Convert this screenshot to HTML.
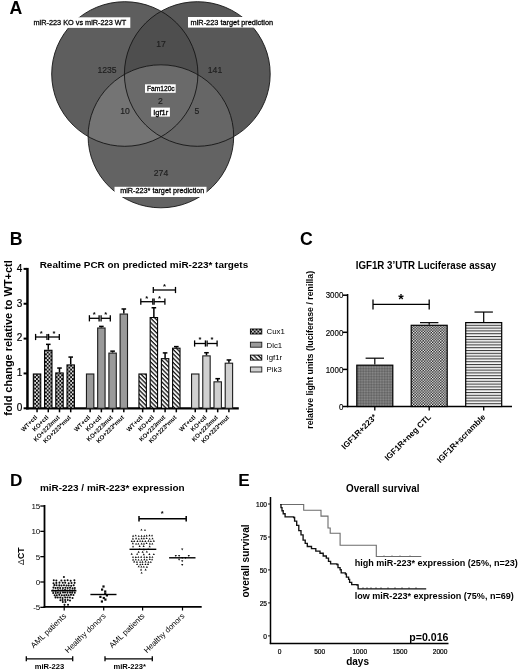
<!DOCTYPE html>
<html><head><meta charset="utf-8"><style>
html,body{margin:0;padding:0;background:#fff;}
svg{display:block;will-change:transform;filter:blur(0.3px);font-family:"Liberation Sans",sans-serif;}
</style></head><body>
<svg width="520" height="672" viewBox="0 0 520 672">
<rect width="520" height="672" fill="#fff"/>
<defs>
<pattern id="chk" width="3.6" height="3.8" patternUnits="userSpaceOnUse"><rect width="3.6" height="3.8" fill="#0a0a0a"/><circle cx="0.9" cy="0.95" r="0.95" fill="#fff"/><circle cx="2.7" cy="2.85" r="0.95" fill="#fff"/></pattern>
<pattern id="chk2" width="2.7" height="2.7" patternUnits="userSpaceOnUse"><rect width="2.7" height="2.7" fill="#111"/><rect width="1.35" height="1.35" fill="#fff"/><rect x="1.35" y="1.35" width="1.35" height="1.35" fill="#fff"/></pattern>
<pattern id="dit2" width="1.6" height="1.6" patternUnits="userSpaceOnUse"><rect width="1.6" height="1.6" fill="#747474"/><rect width="0.8" height="0.8" fill="#5e5e5e"/><rect x="0.8" y="0.8" width="0.8" height="0.8" fill="#8c8c8c"/></pattern>
<pattern id="hat" width="3.1" height="3.1" patternUnits="userSpaceOnUse" patternTransform="rotate(45)"><rect width="3.1" height="3.1" fill="#f6f6f6"/><rect width="3.1" height="1.25" fill="#111"/></pattern>
<pattern id="hor" width="3" height="2.8" patternUnits="userSpaceOnUse"><rect width="3" height="2.8" fill="#f6f6f6"/><rect width="3" height="1.05" fill="#3a3a3a"/></pattern>
<clipPath id="cL"><ellipse cx="124.8" cy="74" rx="73.1" ry="72.3"/></clipPath>
<clipPath id="cR"><ellipse cx="197.3" cy="74" rx="72.9" ry="72.3"/></clipPath>
<clipPath id="cB"><ellipse cx="160.9" cy="136.3" rx="72.8" ry="71.5"/></clipPath>
</defs>
<text x="9.5" y="14.2" font-size="17.7" font-weight="bold" text-anchor="start" fill="#000">A</text>
<ellipse cx="124.8" cy="74" rx="73.1" ry="72.3" fill="#5e5e5e"/>
<ellipse cx="197.3" cy="74" rx="72.9" ry="72.3" fill="#585858"/>
<ellipse cx="160.9" cy="136.3" rx="72.8" ry="71.5" fill="#636363"/>
<g clip-path="url(#cL)"><ellipse cx="197.3" cy="74" rx="72.9" ry="72.3" fill="#4e4e4e"/></g>
<g clip-path="url(#cL)"><ellipse cx="160.9" cy="136.3" rx="72.8" ry="71.5" fill="#747474"/></g>
<g clip-path="url(#cR)"><ellipse cx="160.9" cy="136.3" rx="72.8" ry="71.5" fill="#666666"/></g>
<g clip-path="url(#cL)"><g clip-path="url(#cR)"><ellipse cx="160.9" cy="136.3" rx="72.8" ry="71.5" fill="#6a6a6a"/></g></g>
<ellipse cx="124.8" cy="74" rx="73.1" ry="72.3" fill="none" stroke="#151515" stroke-width="0.9"/>
<ellipse cx="197.3" cy="74" rx="72.9" ry="72.3" fill="none" stroke="#151515" stroke-width="0.9"/>
<ellipse cx="160.9" cy="136.3" rx="72.8" ry="71.5" fill="none" stroke="#151515" stroke-width="0.9"/>
<rect x="29.50" y="17.30" width="100.80" height="10.60" fill="#fff" stroke="none" stroke-width="1"/>
<text x="33.5" y="25.1" font-size="7.6" font-weight="normal" text-anchor="start" fill="#000" stroke="#000" stroke-width="0.28" textLength="92.6" lengthAdjust="spacingAndGlyphs">miR-223 KO vs miR-223 WT</text>
<rect x="188.00" y="17.00" width="88.50" height="10.60" fill="#fff" stroke="none" stroke-width="1"/>
<text x="190.6" y="24.6" font-size="7.6" font-weight="normal" text-anchor="start" fill="#000" stroke="#000" stroke-width="0.28" textLength="82.5" lengthAdjust="spacingAndGlyphs">miR-223 target prediction</text>
<rect x="114.50" y="186.80" width="92.00" height="10.20" fill="#fff" stroke="none" stroke-width="1"/>
<text x="120.2" y="193.3" font-size="7.3" font-weight="normal" text-anchor="start" fill="#000" stroke="#000" stroke-width="0.28" textLength="84.2" lengthAdjust="spacingAndGlyphs">miR-223* target prediction</text>
<rect x="145.00" y="84.30" width="30.70" height="8.50" fill="#fff" stroke="none" stroke-width="1"/>
<text x="146.9" y="91.2" font-size="7" font-weight="normal" text-anchor="start" fill="#000" stroke="#000" stroke-width="0.28" textLength="27.8" lengthAdjust="spacingAndGlyphs">Fam120c</text>
<rect x="151.10" y="107.60" width="18.80" height="9.00" fill="#fff" stroke="none" stroke-width="1"/>
<text x="153.2" y="114.5" font-size="7" font-weight="normal" text-anchor="start" fill="#000" stroke="#000" stroke-width="0.28" textLength="15.1" lengthAdjust="spacingAndGlyphs">Igf1r</text>
<text x="161" y="47.2" font-size="8.6" font-weight="normal" text-anchor="middle" fill="#1e1e1e" stroke="#1e1e1e" stroke-width="0.15">17</text>
<text x="107" y="73.3" font-size="8.6" font-weight="normal" text-anchor="middle" fill="#1e1e1e" stroke="#1e1e1e" stroke-width="0.15">1235</text>
<text x="215" y="73.3" font-size="8.6" font-weight="normal" text-anchor="middle" fill="#1e1e1e" stroke="#1e1e1e" stroke-width="0.15">141</text>
<text x="160.4" y="103.9" font-size="8.6" font-weight="normal" text-anchor="middle" fill="#1e1e1e" stroke="#1e1e1e" stroke-width="0.15">2</text>
<text x="125" y="114.3" font-size="8.6" font-weight="normal" text-anchor="middle" fill="#1e1e1e" stroke="#1e1e1e" stroke-width="0.15">10</text>
<text x="197" y="114.3" font-size="8.6" font-weight="normal" text-anchor="middle" fill="#1e1e1e" stroke="#1e1e1e" stroke-width="0.15">5</text>
<text x="161" y="175.8" font-size="8.6" font-weight="normal" text-anchor="middle" fill="#1e1e1e" stroke="#1e1e1e" stroke-width="0.15">274</text>
<text x="9.7" y="244.8" font-size="17.7" font-weight="bold" text-anchor="start" fill="#000">B</text>
<text x="39.7" y="267.8" font-size="9.9" font-weight="bold" text-anchor="start" fill="#000" textLength="208.5" lengthAdjust="spacingAndGlyphs">Realtime PCR on predicted miR-223* targets</text>
<line x1="27.45" y1="267.9" x2="27.45" y2="409.5" stroke="#000" stroke-width="2.5"/>
<line x1="26.2" y1="408.4" x2="238.8" y2="408.4" stroke="#000" stroke-width="2.2"/>
<line x1="23.6" y1="408.3" x2="27" y2="408.3" stroke="#000" stroke-width="2.0"/>
<text x="22.4" y="411.1" font-size="10" font-weight="normal" text-anchor="end" fill="#000" stroke="#000" stroke-width="0.2">0</text>
<line x1="23.6" y1="373.45" x2="27" y2="373.45" stroke="#000" stroke-width="2.0"/>
<text x="22.4" y="376.25" font-size="10" font-weight="normal" text-anchor="end" fill="#000" stroke="#000" stroke-width="0.2">1</text>
<line x1="23.6" y1="338.6" x2="27" y2="338.6" stroke="#000" stroke-width="2.0"/>
<text x="22.4" y="341.40000000000003" font-size="10" font-weight="normal" text-anchor="end" fill="#000" stroke="#000" stroke-width="0.2">2</text>
<line x1="23.6" y1="303.75" x2="27" y2="303.75" stroke="#000" stroke-width="2.0"/>
<text x="22.4" y="306.55" font-size="10" font-weight="normal" text-anchor="end" fill="#000" stroke="#000" stroke-width="0.2">3</text>
<line x1="23.6" y1="268.9" x2="27" y2="268.9" stroke="#000" stroke-width="2.0"/>
<text x="22.4" y="271.7" font-size="10" font-weight="normal" text-anchor="end" fill="#000" stroke="#000" stroke-width="0.2">4</text>
<text x="11.7" y="338" font-size="11" font-weight="bold" text-anchor="middle" fill="#000" transform="rotate(-90 11.7 338)" textLength="155.5" lengthAdjust="spacingAndGlyphs">fold change relative to WT+ctl</text>
<rect x="33.35" y="374.00" width="7.40" height="34.30" fill="url(#chk)" stroke="#000" stroke-width="1.1"/>
<line x1="37.05" y1="409" x2="37.05" y2="412.3" stroke="#000" stroke-width="1.5"/>
<text x="37.65" y="417.8" font-size="6.1" font-weight="bold" text-anchor="end" fill="#000" transform="rotate(-45 37.65 417.8)">WT+ctl</text>
<rect x="44.57" y="350.30" width="7.40" height="58.00" fill="url(#chk)" stroke="#000" stroke-width="1.1"/>
<line x1="48.269999999999996" y1="349.752" x2="48.269999999999996" y2="344.35025" stroke="#000" stroke-width="1.5"/>
<line x1="45.97" y1="344.35025" x2="50.56999999999999" y2="344.35025" stroke="#000" stroke-width="1.5"/>
<line x1="48.269999999999996" y1="409" x2="48.269999999999996" y2="412.3" stroke="#000" stroke-width="1.5"/>
<text x="48.87" y="417.8" font-size="6.1" font-weight="bold" text-anchor="end" fill="#000" transform="rotate(-45 48.87 417.8)">KO+ctl</text>
<rect x="55.79" y="372.95" width="7.40" height="35.35" fill="url(#chk)" stroke="#000" stroke-width="1.1"/>
<line x1="59.489999999999995" y1="372.4045" x2="59.489999999999995" y2="368.04825" stroke="#000" stroke-width="1.5"/>
<line x1="57.19" y1="368.04825" x2="61.78999999999999" y2="368.04825" stroke="#000" stroke-width="1.5"/>
<line x1="59.489999999999995" y1="409" x2="59.489999999999995" y2="412.3" stroke="#000" stroke-width="1.5"/>
<text x="60.089999999999996" y="417.8" font-size="6.1" font-weight="bold" text-anchor="end" fill="#000" transform="rotate(-45 60.089999999999996 417.8)">KO+223mut</text>
<rect x="67.01" y="364.94" width="7.40" height="43.36" fill="url(#chk)" stroke="#000" stroke-width="1.1"/>
<line x1="70.71000000000001" y1="364.389" x2="70.71000000000001" y2="357.07050000000004" stroke="#000" stroke-width="1.5"/>
<line x1="68.41000000000001" y1="357.07050000000004" x2="73.01" y2="357.07050000000004" stroke="#000" stroke-width="1.5"/>
<line x1="70.71000000000001" y1="409" x2="70.71000000000001" y2="412.3" stroke="#000" stroke-width="1.5"/>
<text x="71.31" y="417.8" font-size="6.1" font-weight="bold" text-anchor="end" fill="#000" transform="rotate(-45 71.31 417.8)">KO+223*mut</text>
<rect x="86.45" y="374.00" width="7.40" height="34.30" fill="#9a9a9a" stroke="#1c1c1c" stroke-width="1.1"/>
<line x1="90.15" y1="409" x2="90.15" y2="412.3" stroke="#000" stroke-width="1.5"/>
<text x="90.75" y="417.8" font-size="6.1" font-weight="bold" text-anchor="end" fill="#000" transform="rotate(-45 90.75 417.8)">WT+ctl</text>
<rect x="97.67" y="328.00" width="7.40" height="80.30" fill="#9a9a9a" stroke="#1c1c1c" stroke-width="1.1"/>
<line x1="101.37" y1="327.448" x2="101.37" y2="326.40250000000003" stroke="#000" stroke-width="1.5"/>
<line x1="99.07000000000001" y1="326.40250000000003" x2="103.67" y2="326.40250000000003" stroke="#000" stroke-width="1.5"/>
<line x1="101.37" y1="409" x2="101.37" y2="412.3" stroke="#000" stroke-width="1.5"/>
<text x="101.97" y="417.8" font-size="6.1" font-weight="bold" text-anchor="end" fill="#000" transform="rotate(-45 101.97 417.8)">KO+ctl</text>
<rect x="108.89" y="353.09" width="7.40" height="55.21" fill="#9a9a9a" stroke="#1c1c1c" stroke-width="1.1"/>
<line x1="112.59" y1="352.54" x2="112.59" y2="351.146" stroke="#000" stroke-width="1.5"/>
<line x1="110.29" y1="351.146" x2="114.89" y2="351.146" stroke="#000" stroke-width="1.5"/>
<line x1="112.59" y1="409" x2="112.59" y2="412.3" stroke="#000" stroke-width="1.5"/>
<text x="113.19" y="417.8" font-size="6.1" font-weight="bold" text-anchor="end" fill="#000" transform="rotate(-45 113.19 417.8)">KO+223mut</text>
<rect x="120.11" y="314.06" width="7.40" height="94.24" fill="#9a9a9a" stroke="#1c1c1c" stroke-width="1.1"/>
<line x1="123.81" y1="313.508" x2="123.81" y2="308.9775" stroke="#000" stroke-width="1.5"/>
<line x1="121.51" y1="308.9775" x2="126.11" y2="308.9775" stroke="#000" stroke-width="1.5"/>
<line x1="123.81" y1="409" x2="123.81" y2="412.3" stroke="#000" stroke-width="1.5"/>
<text x="124.41" y="417.8" font-size="6.1" font-weight="bold" text-anchor="end" fill="#000" transform="rotate(-45 124.41 417.8)">KO+223*mut</text>
<rect x="138.95" y="374.00" width="7.40" height="34.30" fill="url(#hat)" stroke="#000" stroke-width="1.1"/>
<line x1="142.65" y1="409" x2="142.65" y2="412.3" stroke="#000" stroke-width="1.5"/>
<text x="143.25" y="417.8" font-size="6.1" font-weight="bold" text-anchor="end" fill="#000" transform="rotate(-45 143.25 417.8)">WT+ctl</text>
<rect x="150.17" y="317.54" width="7.40" height="90.76" fill="url(#hat)" stroke="#000" stroke-width="1.1"/>
<line x1="153.87" y1="316.993" x2="153.87" y2="307.75775" stroke="#000" stroke-width="1.5"/>
<line x1="151.57" y1="307.75775" x2="156.17000000000002" y2="307.75775" stroke="#000" stroke-width="1.5"/>
<line x1="153.87" y1="409" x2="153.87" y2="412.3" stroke="#000" stroke-width="1.5"/>
<text x="154.47" y="417.8" font-size="6.1" font-weight="bold" text-anchor="end" fill="#000" transform="rotate(-45 154.47 417.8)">KO+ctl</text>
<rect x="161.39" y="358.67" width="7.40" height="49.63" fill="url(#hat)" stroke="#000" stroke-width="1.1"/>
<line x1="165.09" y1="358.116" x2="165.09" y2="352.8885" stroke="#000" stroke-width="1.5"/>
<line x1="162.79" y1="352.8885" x2="167.39000000000001" y2="352.8885" stroke="#000" stroke-width="1.5"/>
<line x1="165.09" y1="409" x2="165.09" y2="412.3" stroke="#000" stroke-width="1.5"/>
<text x="165.69" y="417.8" font-size="6.1" font-weight="bold" text-anchor="end" fill="#000" transform="rotate(-45 165.69 417.8)">KO+223mut</text>
<rect x="172.61" y="348.21" width="7.40" height="60.09" fill="url(#hat)" stroke="#000" stroke-width="1.1"/>
<line x1="176.31" y1="347.661" x2="176.31" y2="346.6155" stroke="#000" stroke-width="1.5"/>
<line x1="174.01" y1="346.6155" x2="178.61" y2="346.6155" stroke="#000" stroke-width="1.5"/>
<line x1="176.31" y1="409" x2="176.31" y2="412.3" stroke="#000" stroke-width="1.5"/>
<text x="176.91" y="417.8" font-size="6.1" font-weight="bold" text-anchor="end" fill="#000" transform="rotate(-45 176.91 417.8)">KO+223*mut</text>
<rect x="191.55" y="374.00" width="7.40" height="34.30" fill="#d0d0d0" stroke="#1c1c1c" stroke-width="1.1"/>
<line x1="195.25" y1="409" x2="195.25" y2="412.3" stroke="#000" stroke-width="1.5"/>
<text x="195.85" y="417.8" font-size="6.1" font-weight="bold" text-anchor="end" fill="#000" transform="rotate(-45 195.85 417.8)">WT+ctl</text>
<rect x="202.77" y="355.88" width="7.40" height="52.42" fill="#d0d0d0" stroke="#1c1c1c" stroke-width="1.1"/>
<line x1="206.47" y1="355.32800000000003" x2="206.47" y2="352.71425" stroke="#000" stroke-width="1.5"/>
<line x1="204.17" y1="352.71425" x2="208.77" y2="352.71425" stroke="#000" stroke-width="1.5"/>
<line x1="206.47" y1="409" x2="206.47" y2="412.3" stroke="#000" stroke-width="1.5"/>
<text x="207.07" y="417.8" font-size="6.1" font-weight="bold" text-anchor="end" fill="#000" transform="rotate(-45 207.07 417.8)">KO+ctl</text>
<rect x="213.99" y="381.84" width="7.40" height="26.46" fill="#d0d0d0" stroke="#1c1c1c" stroke-width="1.1"/>
<line x1="217.69" y1="381.29125" x2="217.69" y2="378.6775" stroke="#000" stroke-width="1.5"/>
<line x1="215.39" y1="378.6775" x2="219.99" y2="378.6775" stroke="#000" stroke-width="1.5"/>
<line x1="217.69" y1="409" x2="217.69" y2="412.3" stroke="#000" stroke-width="1.5"/>
<text x="218.29" y="417.8" font-size="6.1" font-weight="bold" text-anchor="end" fill="#000" transform="rotate(-45 218.29 417.8)">KO+223mut</text>
<rect x="225.21" y="363.20" width="7.40" height="45.10" fill="#d0d0d0" stroke="#1c1c1c" stroke-width="1.1"/>
<line x1="228.91" y1="362.6465" x2="228.91" y2="359.96305" stroke="#000" stroke-width="1.5"/>
<line x1="226.60999999999999" y1="359.96305" x2="231.21" y2="359.96305" stroke="#000" stroke-width="1.5"/>
<line x1="228.91" y1="409" x2="228.91" y2="412.3" stroke="#000" stroke-width="1.5"/>
<text x="229.51" y="417.8" font-size="6.1" font-weight="bold" text-anchor="end" fill="#000" transform="rotate(-45 229.51 417.8)">KO+223*mut</text>
<line x1="35.6" y1="337" x2="47" y2="337" stroke="#000" stroke-width="1.3"/>
<line x1="35.6" y1="333.9" x2="35.6" y2="340.1" stroke="#000" stroke-width="1.3"/>
<line x1="47" y1="333.9" x2="47" y2="340.1" stroke="#000" stroke-width="1.3"/>
<text x="41.3" y="335.8" font-size="7.6" font-weight="bold" text-anchor="middle" fill="#000">*</text>
<line x1="48.6" y1="337" x2="59.3" y2="337" stroke="#000" stroke-width="1.3"/>
<line x1="48.6" y1="333.9" x2="48.6" y2="340.1" stroke="#000" stroke-width="1.3"/>
<line x1="59.3" y1="333.9" x2="59.3" y2="340.1" stroke="#000" stroke-width="1.3"/>
<text x="53.95" y="335.8" font-size="7.6" font-weight="bold" text-anchor="middle" fill="#000">*</text>
<line x1="89.4" y1="318.3" x2="99.1" y2="318.3" stroke="#000" stroke-width="1.3"/>
<line x1="89.4" y1="315.2" x2="89.4" y2="321.40000000000003" stroke="#000" stroke-width="1.3"/>
<line x1="99.1" y1="315.2" x2="99.1" y2="321.40000000000003" stroke="#000" stroke-width="1.3"/>
<text x="94.25" y="317.1" font-size="7.6" font-weight="bold" text-anchor="middle" fill="#000">*</text>
<line x1="101.1" y1="318.3" x2="110.3" y2="318.3" stroke="#000" stroke-width="1.3"/>
<line x1="101.1" y1="315.2" x2="101.1" y2="321.40000000000003" stroke="#000" stroke-width="1.3"/>
<line x1="110.3" y1="315.2" x2="110.3" y2="321.40000000000003" stroke="#000" stroke-width="1.3"/>
<text x="105.69999999999999" y="317.1" font-size="7.6" font-weight="bold" text-anchor="middle" fill="#000">*</text>
<line x1="140.8" y1="301.7" x2="152.8" y2="301.7" stroke="#000" stroke-width="1.3"/>
<line x1="140.8" y1="298.59999999999997" x2="140.8" y2="304.8" stroke="#000" stroke-width="1.3"/>
<line x1="152.8" y1="298.59999999999997" x2="152.8" y2="304.8" stroke="#000" stroke-width="1.3"/>
<text x="146.8" y="300.5" font-size="7.6" font-weight="bold" text-anchor="middle" fill="#000">*</text>
<line x1="154.1" y1="301.7" x2="164.9" y2="301.7" stroke="#000" stroke-width="1.3"/>
<line x1="154.1" y1="298.59999999999997" x2="154.1" y2="304.8" stroke="#000" stroke-width="1.3"/>
<line x1="164.9" y1="298.59999999999997" x2="164.9" y2="304.8" stroke="#000" stroke-width="1.3"/>
<text x="159.5" y="300.5" font-size="7.6" font-weight="bold" text-anchor="middle" fill="#000">*</text>
<line x1="153.3" y1="290" x2="175.5" y2="290" stroke="#000" stroke-width="1.3"/>
<line x1="153.3" y1="286.9" x2="153.3" y2="293.1" stroke="#000" stroke-width="1.3"/>
<line x1="175.5" y1="286.9" x2="175.5" y2="293.1" stroke="#000" stroke-width="1.3"/>
<text x="164.4" y="288.8" font-size="7.6" font-weight="bold" text-anchor="middle" fill="#000">*</text>
<line x1="194.6" y1="343.5" x2="205.4" y2="343.5" stroke="#000" stroke-width="1.3"/>
<line x1="194.6" y1="340.4" x2="194.6" y2="346.6" stroke="#000" stroke-width="1.3"/>
<line x1="205.4" y1="340.4" x2="205.4" y2="346.6" stroke="#000" stroke-width="1.3"/>
<text x="200.0" y="342.3" font-size="7.6" font-weight="bold" text-anchor="middle" fill="#000">*</text>
<line x1="207.1" y1="343.5" x2="217.1" y2="343.5" stroke="#000" stroke-width="1.3"/>
<line x1="207.1" y1="340.4" x2="207.1" y2="346.6" stroke="#000" stroke-width="1.3"/>
<line x1="217.1" y1="340.4" x2="217.1" y2="346.6" stroke="#000" stroke-width="1.3"/>
<text x="212.1" y="342.3" font-size="7.6" font-weight="bold" text-anchor="middle" fill="#000">*</text>
<rect x="250.40" y="329.00" width="11.40" height="5.00" fill="url(#chk)" stroke="#000" stroke-width="0.9"/>
<text x="266.6" y="334.3" font-size="7.8" font-weight="normal" text-anchor="start" fill="#000">Cux1</text>
<rect x="250.40" y="342.20" width="11.40" height="5.00" fill="#9a9a9a" stroke="#1c1c1c" stroke-width="0.9"/>
<text x="266.6" y="347.5" font-size="7.8" font-weight="normal" text-anchor="start" fill="#000">Dlc1</text>
<rect x="250.40" y="355.10" width="11.40" height="5.00" fill="url(#hat)" stroke="#000" stroke-width="0.9"/>
<text x="266.6" y="360.40000000000003" font-size="7.8" font-weight="normal" text-anchor="start" fill="#000">Igf1r</text>
<rect x="250.40" y="367.00" width="11.40" height="5.00" fill="#d0d0d0" stroke="#1c1c1c" stroke-width="0.9"/>
<text x="266.6" y="372.3" font-size="7.8" font-weight="normal" text-anchor="start" fill="#000">Pik3</text>
<text x="300.1" y="244.9" font-size="17.7" font-weight="bold" text-anchor="start" fill="#000">C</text>
<text x="355.7" y="269.2" font-size="10" font-weight="bold" text-anchor="start" fill="#000" textLength="140.5" lengthAdjust="spacingAndGlyphs">IGF1R 3’UTR Luciferase assay</text>
<line x1="347.6" y1="294" x2="347.6" y2="407.2" stroke="#000" stroke-width="1.5"/>
<line x1="346.9" y1="406.5" x2="512" y2="406.5" stroke="#000" stroke-width="1.5"/>
<line x1="342.8" y1="406.5" x2="347.5" y2="406.5" stroke="#000" stroke-width="1.5"/>
<text x="343.3" y="409.7" font-size="9.4" font-weight="normal" text-anchor="end" fill="#000" textLength="4.4" lengthAdjust="spacingAndGlyphs" stroke="#000" stroke-width="0.15">0</text>
<line x1="342.8" y1="369.4" x2="347.5" y2="369.4" stroke="#000" stroke-width="1.5"/>
<text x="343.3" y="372.59999999999997" font-size="9.4" font-weight="normal" text-anchor="end" fill="#000" textLength="17.6" lengthAdjust="spacingAndGlyphs" stroke="#000" stroke-width="0.15">1000</text>
<line x1="342.8" y1="332.3" x2="347.5" y2="332.3" stroke="#000" stroke-width="1.5"/>
<text x="343.3" y="335.5" font-size="9.4" font-weight="normal" text-anchor="end" fill="#000" textLength="17.6" lengthAdjust="spacingAndGlyphs" stroke="#000" stroke-width="0.15">2000</text>
<line x1="342.8" y1="295.2" x2="347.5" y2="295.2" stroke="#000" stroke-width="1.5"/>
<text x="343.3" y="298.4" font-size="9.4" font-weight="normal" text-anchor="end" fill="#000" textLength="17.6" lengthAdjust="spacingAndGlyphs" stroke="#000" stroke-width="0.15">3000</text>
<text x="313.3" y="349.8" font-size="8.8" font-weight="bold" text-anchor="middle" fill="#000" transform="rotate(-90 313.3 349.8)" textLength="157.9" lengthAdjust="spacingAndGlyphs">relative light units (luciferase / renilla)</text>
<rect x="356.80" y="365.18" width="36.00" height="41.32" fill="url(#dit2)" stroke="#000" stroke-width="1.2"/>
<line x1="374.8" y1="364.577" x2="374.8" y2="358.1958" stroke="#000" stroke-width="1.2"/>
<line x1="365.6" y1="358.1958" x2="384.0" y2="358.1958" stroke="#000" stroke-width="1.2"/>
<line x1="374.8" y1="407" x2="374.8" y2="410.5" stroke="#000" stroke-width="1.3"/>
<text x="377.2" y="417.6" font-size="8.2" font-weight="bold" text-anchor="end" fill="#000" transform="rotate(-45 377.2 417.6)">IGF1R+223*</text>
<rect x="411.20" y="325.29" width="36.00" height="81.21" fill="url(#chk2)" stroke="#000" stroke-width="1.2"/>
<line x1="429.20000000000005" y1="324.6945" x2="429.20000000000005" y2="322.654" stroke="#000" stroke-width="1.2"/>
<line x1="420.00000000000006" y1="322.654" x2="438.40000000000003" y2="322.654" stroke="#000" stroke-width="1.2"/>
<line x1="429.20000000000005" y1="407" x2="429.20000000000005" y2="410.5" stroke="#000" stroke-width="1.3"/>
<text x="431.6" y="417.6" font-size="8.2" font-weight="bold" text-anchor="end" fill="#000" transform="rotate(-45 431.6 417.6)">IGF1R+neg CTL</text>
<rect x="465.70" y="322.59" width="36.00" height="83.91" fill="url(#hor)" stroke="#000" stroke-width="1.2"/>
<line x1="483.70000000000005" y1="321.9862" x2="483.70000000000005" y2="312.0434" stroke="#000" stroke-width="1.2"/>
<line x1="474.50000000000006" y1="312.0434" x2="492.90000000000003" y2="312.0434" stroke="#000" stroke-width="1.2"/>
<line x1="483.70000000000005" y1="407" x2="483.70000000000005" y2="410.5" stroke="#000" stroke-width="1.3"/>
<text x="486.1" y="417.6" font-size="8.2" font-weight="bold" text-anchor="end" fill="#000" transform="rotate(-45 486.1 417.6)">IGF1R+scramble</text>
<line x1="373" y1="304.4" x2="429.2" y2="304.4" stroke="#000" stroke-width="1.3"/>
<line x1="373" y1="299.6" x2="373" y2="309.4" stroke="#000" stroke-width="1.3"/>
<line x1="429.2" y1="299.6" x2="429.2" y2="309.4" stroke="#000" stroke-width="1.3"/>
<text x="401" y="303.5" font-size="14" font-weight="bold" text-anchor="middle" fill="#000">*</text>
<text x="10" y="486.3" font-size="17.2" font-weight="bold" text-anchor="start" fill="#000">D</text>
<text x="112.3" y="490.7" font-size="9.95" font-weight="bold" text-anchor="middle" fill="#000">miR-223 / miR-223* expression</text>
<line x1="44.5" y1="505" x2="44.5" y2="607.8" stroke="#000" stroke-width="1.8"/>
<line x1="43.6" y1="606.9" x2="201.7" y2="606.9" stroke="#000" stroke-width="1.8"/>
<line x1="40.3" y1="506.025" x2="44.5" y2="506.025" stroke="#000" stroke-width="1.3"/>
<text x="40.3" y="508.92499999999995" font-size="8" font-weight="normal" text-anchor="end" fill="#000">15</text>
<line x1="40.3" y1="531.35" x2="44.5" y2="531.35" stroke="#000" stroke-width="1.3"/>
<text x="40.3" y="534.25" font-size="8" font-weight="normal" text-anchor="end" fill="#000">10</text>
<line x1="40.3" y1="556.675" x2="44.5" y2="556.675" stroke="#000" stroke-width="1.3"/>
<text x="40.3" y="559.5749999999999" font-size="8" font-weight="normal" text-anchor="end" fill="#000">5</text>
<line x1="40.3" y1="582.0" x2="44.5" y2="582.0" stroke="#000" stroke-width="1.3"/>
<text x="40.3" y="584.9" font-size="8" font-weight="normal" text-anchor="end" fill="#000">0</text>
<line x1="40.3" y1="607.325" x2="44.5" y2="607.325" stroke="#000" stroke-width="1.3"/>
<text x="40.3" y="610.225" font-size="8" font-weight="normal" text-anchor="end" fill="#000">-5</text>
<text x="23.9" y="556.2" font-size="8.7" font-weight="bold" text-anchor="middle" fill="#000" transform="rotate(-90 23.9 556.2)"><tspan font-weight="normal">Δ</tspan>CT</text>
<circle cx="63.91" cy="576.99" r="1.02" fill="#0a0a0a"/>
<circle cx="53.76" cy="580.23" r="1.02" fill="#0a0a0a"/>
<circle cx="56.34" cy="580.44" r="1.02" fill="#0a0a0a"/>
<circle cx="61.38" cy="580.54" r="1.02" fill="#0a0a0a"/>
<circle cx="64.73" cy="580.48" r="1.02" fill="#0a0a0a"/>
<circle cx="67.62" cy="580.24" r="1.02" fill="#0a0a0a"/>
<circle cx="70.68" cy="580.76" r="1.02" fill="#0a0a0a"/>
<circle cx="74.37" cy="580.34" r="1.02" fill="#0a0a0a"/>
<circle cx="53.50" cy="583.28" r="1.02" fill="#0a0a0a"/>
<circle cx="56.36" cy="582.89" r="1.02" fill="#0a0a0a"/>
<circle cx="59.44" cy="582.64" r="1.02" fill="#0a0a0a"/>
<circle cx="62.74" cy="582.82" r="1.02" fill="#0a0a0a"/>
<circle cx="65.26" cy="582.69" r="1.02" fill="#0a0a0a"/>
<circle cx="68.70" cy="583.18" r="1.02" fill="#0a0a0a"/>
<circle cx="71.52" cy="583.02" r="1.02" fill="#0a0a0a"/>
<circle cx="74.63" cy="582.87" r="1.02" fill="#0a0a0a"/>
<circle cx="54.42" cy="585.14" r="1.02" fill="#0a0a0a"/>
<circle cx="56.58" cy="585.24" r="1.02" fill="#0a0a0a"/>
<circle cx="59.29" cy="585.39" r="1.02" fill="#0a0a0a"/>
<circle cx="61.51" cy="585.50" r="1.02" fill="#0a0a0a"/>
<circle cx="63.98" cy="585.30" r="1.02" fill="#0a0a0a"/>
<circle cx="66.55" cy="585.58" r="1.02" fill="#0a0a0a"/>
<circle cx="68.67" cy="585.50" r="1.02" fill="#0a0a0a"/>
<circle cx="71.21" cy="585.71" r="1.02" fill="#0a0a0a"/>
<circle cx="73.71" cy="585.30" r="1.02" fill="#0a0a0a"/>
<circle cx="53.44" cy="587.61" r="1.02" fill="#0a0a0a"/>
<circle cx="55.56" cy="588.06" r="1.02" fill="#0a0a0a"/>
<circle cx="57.83" cy="587.87" r="1.02" fill="#0a0a0a"/>
<circle cx="60.17" cy="587.99" r="1.02" fill="#0a0a0a"/>
<circle cx="62.93" cy="587.93" r="1.02" fill="#0a0a0a"/>
<circle cx="65.39" cy="587.75" r="1.02" fill="#0a0a0a"/>
<circle cx="67.70" cy="587.94" r="1.02" fill="#0a0a0a"/>
<circle cx="70.04" cy="587.84" r="1.02" fill="#0a0a0a"/>
<circle cx="72.57" cy="588.19" r="1.02" fill="#0a0a0a"/>
<circle cx="74.79" cy="587.99" r="1.02" fill="#0a0a0a"/>
<circle cx="52.98" cy="590.50" r="1.02" fill="#0a0a0a"/>
<circle cx="55.67" cy="590.70" r="1.02" fill="#0a0a0a"/>
<circle cx="58.16" cy="590.21" r="1.02" fill="#0a0a0a"/>
<circle cx="60.34" cy="590.48" r="1.02" fill="#0a0a0a"/>
<circle cx="62.56" cy="590.33" r="1.02" fill="#0a0a0a"/>
<circle cx="65.03" cy="590.09" r="1.02" fill="#0a0a0a"/>
<circle cx="67.38" cy="590.55" r="1.02" fill="#0a0a0a"/>
<circle cx="69.81" cy="590.18" r="1.02" fill="#0a0a0a"/>
<circle cx="72.35" cy="590.62" r="1.02" fill="#0a0a0a"/>
<circle cx="74.59" cy="590.32" r="1.02" fill="#0a0a0a"/>
<circle cx="53.22" cy="593.06" r="1.02" fill="#0a0a0a"/>
<circle cx="55.76" cy="593.04" r="1.02" fill="#0a0a0a"/>
<circle cx="57.89" cy="592.73" r="1.02" fill="#0a0a0a"/>
<circle cx="60.33" cy="593.06" r="1.02" fill="#0a0a0a"/>
<circle cx="63.03" cy="592.54" r="1.02" fill="#0a0a0a"/>
<circle cx="65.04" cy="592.60" r="1.02" fill="#0a0a0a"/>
<circle cx="67.47" cy="592.78" r="1.02" fill="#0a0a0a"/>
<circle cx="70.04" cy="592.62" r="1.02" fill="#0a0a0a"/>
<circle cx="72.15" cy="592.73" r="1.02" fill="#0a0a0a"/>
<circle cx="74.73" cy="592.83" r="1.02" fill="#0a0a0a"/>
<circle cx="54.63" cy="595.30" r="1.02" fill="#0a0a0a"/>
<circle cx="56.81" cy="595.25" r="1.02" fill="#0a0a0a"/>
<circle cx="59.29" cy="594.86" r="1.02" fill="#0a0a0a"/>
<circle cx="61.80" cy="595.36" r="1.02" fill="#0a0a0a"/>
<circle cx="64.19" cy="595.38" r="1.02" fill="#0a0a0a"/>
<circle cx="66.35" cy="595.10" r="1.02" fill="#0a0a0a"/>
<circle cx="68.60" cy="595.26" r="1.02" fill="#0a0a0a"/>
<circle cx="70.98" cy="594.87" r="1.02" fill="#0a0a0a"/>
<circle cx="73.45" cy="594.93" r="1.02" fill="#0a0a0a"/>
<circle cx="55.52" cy="597.39" r="1.02" fill="#0a0a0a"/>
<circle cx="57.75" cy="597.46" r="1.02" fill="#0a0a0a"/>
<circle cx="60.20" cy="597.61" r="1.02" fill="#0a0a0a"/>
<circle cx="62.56" cy="597.96" r="1.02" fill="#0a0a0a"/>
<circle cx="65.26" cy="597.46" r="1.02" fill="#0a0a0a"/>
<circle cx="67.48" cy="597.59" r="1.02" fill="#0a0a0a"/>
<circle cx="69.93" cy="597.44" r="1.02" fill="#0a0a0a"/>
<circle cx="72.57" cy="598.05" r="1.02" fill="#0a0a0a"/>
<circle cx="60.38" cy="600.22" r="1.02" fill="#0a0a0a"/>
<circle cx="62.59" cy="599.96" r="1.02" fill="#0a0a0a"/>
<circle cx="65.12" cy="600.07" r="1.02" fill="#0a0a0a"/>
<circle cx="67.76" cy="600.00" r="1.02" fill="#0a0a0a"/>
<circle cx="70.00" cy="600.55" r="1.02" fill="#0a0a0a"/>
<circle cx="62.81" cy="602.01" r="1.02" fill="#0a0a0a"/>
<circle cx="65.46" cy="601.93" r="1.02" fill="#0a0a0a"/>
<circle cx="64.49" cy="604.87" r="1.02" fill="#0a0a0a"/>
<circle cx="68.02" cy="604.68" r="1.02" fill="#0a0a0a"/>
<line x1="51.2" y1="590.7" x2="76.4" y2="590.7" stroke="#000" stroke-width="1.6"/>
<rect x="102.40" y="585.40" width="2.2" height="2.2" fill="#0a0a0a"/>
<rect x="101.00" y="588.50" width="2.2" height="2.2" fill="#0a0a0a"/>
<rect x="104.10" y="590.40" width="2.2" height="2.2" fill="#0a0a0a"/>
<rect x="104.10" y="592.50" width="2.2" height="2.2" fill="#0a0a0a"/>
<rect x="105.80" y="594.30" width="2.2" height="2.2" fill="#0a0a0a"/>
<rect x="99.30" y="595.80" width="2.2" height="2.2" fill="#0a0a0a"/>
<rect x="102.70" y="596.90" width="2.2" height="2.2" fill="#0a0a0a"/>
<rect x="104.30" y="598.50" width="2.2" height="2.2" fill="#0a0a0a"/>
<rect x="100.80" y="600.40" width="2.2" height="2.2" fill="#0a0a0a"/>
<line x1="90.4" y1="594.5" x2="116.5" y2="594.5" stroke="#000" stroke-width="1.4"/>
<path d="M140.41 530.60L142.51 530.60L141.46 528.70Z" fill="#0a0a0a"/>
<path d="M143.93 530.84L146.03 530.84L144.98 528.94Z" fill="#0a0a0a"/>
<path d="M132.04 536.67L134.14 536.67L133.09 534.77Z" fill="#0a0a0a"/>
<path d="M134.67 536.34L136.77 536.34L135.72 534.44Z" fill="#0a0a0a"/>
<path d="M137.71 536.80L139.81 536.80L138.76 534.90Z" fill="#0a0a0a"/>
<path d="M140.49 536.69L142.59 536.69L141.54 534.79Z" fill="#0a0a0a"/>
<path d="M143.22 536.65L145.32 536.65L144.27 534.75Z" fill="#0a0a0a"/>
<path d="M145.61 536.52L147.71 536.52L146.66 534.62Z" fill="#0a0a0a"/>
<path d="M148.44 536.22L150.54 536.22L149.49 534.32Z" fill="#0a0a0a"/>
<path d="M150.99 536.37L153.09 536.37L152.04 534.47Z" fill="#0a0a0a"/>
<path d="M131.88 539.41L133.98 539.41L132.93 537.51Z" fill="#0a0a0a"/>
<path d="M135.05 539.26L137.15 539.26L136.10 537.36Z" fill="#0a0a0a"/>
<path d="M137.79 539.58L139.89 539.58L138.84 537.68Z" fill="#0a0a0a"/>
<path d="M140.55 539.21L142.65 539.21L141.60 537.31Z" fill="#0a0a0a"/>
<path d="M142.86 539.13L144.96 539.13L143.91 537.23Z" fill="#0a0a0a"/>
<path d="M145.59 539.11L147.69 539.11L146.64 537.21Z" fill="#0a0a0a"/>
<path d="M148.60 539.53L150.70 539.53L149.65 537.63Z" fill="#0a0a0a"/>
<path d="M151.48 539.28L153.58 539.28L152.53 537.38Z" fill="#0a0a0a"/>
<path d="M130.74 542.00L132.84 542.00L131.79 540.10Z" fill="#0a0a0a"/>
<path d="M133.15 541.92L135.25 541.92L134.20 540.02Z" fill="#0a0a0a"/>
<path d="M136.40 541.99L138.50 541.99L137.45 540.09Z" fill="#0a0a0a"/>
<path d="M139.05 541.81L141.15 541.81L140.10 539.91Z" fill="#0a0a0a"/>
<path d="M141.46 542.00L143.56 542.00L142.51 540.10Z" fill="#0a0a0a"/>
<path d="M144.30 542.00L146.40 542.00L145.35 540.10Z" fill="#0a0a0a"/>
<path d="M147.43 541.76L149.53 541.76L148.48 539.86Z" fill="#0a0a0a"/>
<path d="M149.84 542.09L151.94 542.09L150.89 540.19Z" fill="#0a0a0a"/>
<path d="M152.78 541.63L154.88 541.63L153.83 539.73Z" fill="#0a0a0a"/>
<path d="M131.80 544.15L133.90 544.15L132.85 542.25Z" fill="#0a0a0a"/>
<path d="M135.02 544.54L137.12 544.54L136.07 542.64Z" fill="#0a0a0a"/>
<path d="M137.31 544.55L139.41 544.55L138.36 542.65Z" fill="#0a0a0a"/>
<path d="M140.56 544.45L142.66 544.45L141.61 542.55Z" fill="#0a0a0a"/>
<path d="M142.94 544.39L145.04 544.39L143.99 542.49Z" fill="#0a0a0a"/>
<path d="M145.55 544.06L147.65 544.06L146.60 542.16Z" fill="#0a0a0a"/>
<path d="M148.81 544.45L150.91 544.45L149.86 542.55Z" fill="#0a0a0a"/>
<path d="M151.29 544.62L153.39 544.62L152.34 542.72Z" fill="#0a0a0a"/>
<path d="M131.99 547.36L134.09 547.36L133.04 545.46Z" fill="#0a0a0a"/>
<path d="M138.55 546.97L140.65 546.97L139.60 545.07Z" fill="#0a0a0a"/>
<path d="M142.60 547.02L144.70 547.02L143.65 545.12Z" fill="#0a0a0a"/>
<path d="M148.64 547.19L150.74 547.19L149.69 545.29Z" fill="#0a0a0a"/>
<path d="M138.76 549.88L140.86 549.88L139.81 547.98Z" fill="#0a0a0a"/>
<path d="M142.80 550.17L144.90 550.17L143.85 548.27Z" fill="#0a0a0a"/>
<path d="M147.06 549.90L149.16 549.90L148.11 548.00Z" fill="#0a0a0a"/>
<path d="M137.58 552.70L139.68 552.70L138.63 550.80Z" fill="#0a0a0a"/>
<path d="M141.60 552.71L143.70 552.71L142.65 550.81Z" fill="#0a0a0a"/>
<path d="M145.78 552.48L147.88 552.48L146.83 550.58Z" fill="#0a0a0a"/>
<path d="M130.66 554.70L132.76 554.70L131.71 552.80Z" fill="#0a0a0a"/>
<path d="M136.11 554.80L138.21 554.80L137.16 552.90Z" fill="#0a0a0a"/>
<path d="M142.73 555.17L144.83 555.17L143.78 553.27Z" fill="#0a0a0a"/>
<path d="M148.33 554.98L150.43 554.98L149.38 553.08Z" fill="#0a0a0a"/>
<path d="M152.79 555.03L154.89 555.03L153.84 553.13Z" fill="#0a0a0a"/>
<path d="M131.92 557.79L134.02 557.79L132.97 555.89Z" fill="#0a0a0a"/>
<path d="M134.81 557.95L136.91 557.95L135.86 556.05Z" fill="#0a0a0a"/>
<path d="M137.29 557.81L139.39 557.81L138.34 555.91Z" fill="#0a0a0a"/>
<path d="M140.12 557.64L142.22 557.64L141.17 555.74Z" fill="#0a0a0a"/>
<path d="M143.19 557.78L145.29 557.78L144.24 555.88Z" fill="#0a0a0a"/>
<path d="M145.81 557.93L147.91 557.93L146.86 556.03Z" fill="#0a0a0a"/>
<path d="M148.77 557.74L150.87 557.74L149.82 555.84Z" fill="#0a0a0a"/>
<path d="M151.34 557.78L153.44 557.78L152.39 555.88Z" fill="#0a0a0a"/>
<path d="M132.03 560.43L134.13 560.43L133.08 558.53Z" fill="#0a0a0a"/>
<path d="M134.75 560.33L136.85 560.33L135.80 558.43Z" fill="#0a0a0a"/>
<path d="M137.51 560.58L139.61 560.58L138.56 558.68Z" fill="#0a0a0a"/>
<path d="M140.39 560.54L142.49 560.54L141.44 558.64Z" fill="#0a0a0a"/>
<path d="M143.29 560.17L145.39 560.17L144.34 558.27Z" fill="#0a0a0a"/>
<path d="M145.81 560.58L147.91 560.58L146.86 558.68Z" fill="#0a0a0a"/>
<path d="M148.73 560.09L150.83 560.09L149.78 558.19Z" fill="#0a0a0a"/>
<path d="M151.05 560.28L153.15 560.28L152.10 558.38Z" fill="#0a0a0a"/>
<path d="M133.14 562.43L135.24 562.43L134.19 560.53Z" fill="#0a0a0a"/>
<path d="M135.89 562.69L137.99 562.69L136.94 560.79Z" fill="#0a0a0a"/>
<path d="M139.07 562.83L141.17 562.83L140.12 560.93Z" fill="#0a0a0a"/>
<path d="M141.44 562.72L143.54 562.72L142.49 560.82Z" fill="#0a0a0a"/>
<path d="M144.50 562.38L146.60 562.38L145.55 560.48Z" fill="#0a0a0a"/>
<path d="M147.38 562.87L149.48 562.87L148.43 560.97Z" fill="#0a0a0a"/>
<path d="M149.73 562.86L151.83 562.86L150.78 560.96Z" fill="#0a0a0a"/>
<path d="M136.09 565.11L138.19 565.11L137.14 563.21Z" fill="#0a0a0a"/>
<path d="M139.19 565.32L141.29 565.32L140.24 563.42Z" fill="#0a0a0a"/>
<path d="M141.45 565.08L143.55 565.08L142.50 563.18Z" fill="#0a0a0a"/>
<path d="M144.41 565.03L146.51 565.03L145.46 563.13Z" fill="#0a0a0a"/>
<path d="M146.97 565.01L149.07 565.01L148.02 563.11Z" fill="#0a0a0a"/>
<path d="M137.66 567.37L139.76 567.37L138.71 565.47Z" fill="#0a0a0a"/>
<path d="M140.31 567.62L142.41 567.62L141.36 565.72Z" fill="#0a0a0a"/>
<path d="M142.74 567.55L144.84 567.55L143.79 565.65Z" fill="#0a0a0a"/>
<path d="M145.85 567.66L147.95 567.66L146.90 565.76Z" fill="#0a0a0a"/>
<path d="M140.01 570.48L142.11 570.48L141.06 568.58Z" fill="#0a0a0a"/>
<path d="M144.57 570.47L146.67 570.47L145.62 568.57Z" fill="#0a0a0a"/>
<path d="M140.59 573.59L142.69 573.59L141.64 571.69Z" fill="#0a0a0a"/>
<line x1="129.5" y1="549.3" x2="156.3" y2="549.3" stroke="#000" stroke-width="1.4"/>
<path d="M181.10 548.50L183.30 548.50L182.20 550.50Z" fill="#0a0a0a"/>
<path d="M174.70 554.90L176.90 554.90L175.80 556.90Z" fill="#0a0a0a"/>
<path d="M178.00 555.10L180.20 555.10L179.10 557.10Z" fill="#0a0a0a"/>
<path d="M187.70 554.90L189.90 554.90L188.80 556.90Z" fill="#0a0a0a"/>
<path d="M181.10 556.90L183.30 556.90L182.20 558.90Z" fill="#0a0a0a"/>
<path d="M184.40 557.10L186.60 557.10L185.50 559.10Z" fill="#0a0a0a"/>
<path d="M178.00 558.70L180.20 558.70L179.10 560.70Z" fill="#0a0a0a"/>
<path d="M181.10 560.30L183.30 560.30L182.20 562.30Z" fill="#0a0a0a"/>
<path d="M181.10 563.90L183.30 563.90L182.20 565.90Z" fill="#0a0a0a"/>
<line x1="169.1" y1="557.8" x2="195.5" y2="557.8" stroke="#000" stroke-width="1.4"/>
<line x1="139" y1="518.7" x2="186.2" y2="518.7" stroke="#000" stroke-width="1.5"/>
<line x1="139" y1="516" x2="139" y2="521.4" stroke="#000" stroke-width="1.5"/>
<line x1="186.2" y1="516" x2="186.2" y2="521.4" stroke="#000" stroke-width="1.5"/>
<text x="162.3" y="516.2" font-size="7.5" font-weight="bold" text-anchor="middle" fill="#000">*</text>
<line x1="64.2" y1="607" x2="64.2" y2="610.5" stroke="#000" stroke-width="1.2"/>
<text x="66.8" y="616.6" font-size="7.9" font-weight="normal" text-anchor="end" fill="#000" transform="rotate(-44 66.8 616.6)">AML patients</text>
<line x1="103.7" y1="607" x2="103.7" y2="610.5" stroke="#000" stroke-width="1.2"/>
<text x="106.3" y="616.6" font-size="7.9" font-weight="normal" text-anchor="end" fill="#000" transform="rotate(-44 106.3 616.6)">Healthy donors</text>
<line x1="142.6" y1="607" x2="142.6" y2="610.5" stroke="#000" stroke-width="1.2"/>
<text x="145.2" y="616.6" font-size="7.9" font-weight="normal" text-anchor="end" fill="#000" transform="rotate(-44 145.2 616.6)">AML patients</text>
<line x1="182.5" y1="607" x2="182.5" y2="610.5" stroke="#000" stroke-width="1.2"/>
<text x="185.1" y="616.6" font-size="7.9" font-weight="normal" text-anchor="end" fill="#000" transform="rotate(-44 185.1 616.6)">Healthy donors</text>
<line x1="26.3" y1="658.8" x2="72.7" y2="658.8" stroke="#000" stroke-width="1.3"/>
<line x1="26.3" y1="656.3" x2="26.3" y2="661.3" stroke="#000" stroke-width="1.3"/>
<line x1="72.7" y1="656.3" x2="72.7" y2="661.3" stroke="#000" stroke-width="1.3"/>
<text x="49.5" y="669.3" font-size="7.6" font-weight="bold" text-anchor="middle" fill="#000">miR-223</text>
<line x1="105" y1="658.8" x2="152.3" y2="658.8" stroke="#000" stroke-width="1.3"/>
<line x1="105" y1="656.3" x2="105" y2="661.3" stroke="#000" stroke-width="1.3"/>
<line x1="152.3" y1="656.3" x2="152.3" y2="661.3" stroke="#000" stroke-width="1.3"/>
<text x="129.7" y="669.3" font-size="7.6" font-weight="bold" text-anchor="middle" fill="#000">miR-223*</text>
<text x="238.3" y="486.4" font-size="17.2" font-weight="bold" text-anchor="start" fill="#000">E</text>
<text x="346.1" y="491.5" font-size="10.1" font-weight="bold" text-anchor="start" fill="#000" textLength="73.5" lengthAdjust="spacingAndGlyphs">Overall survival</text>
<line x1="270.5" y1="497" x2="270.5" y2="644.1" stroke="#000" stroke-width="1.5"/>
<line x1="269.8" y1="643.4" x2="448.5" y2="643.4" stroke="#000" stroke-width="1.5"/>
<line x1="268" y1="504" x2="270.5" y2="504" stroke="#000" stroke-width="0.9"/>
<text x="267" y="507.1" font-size="6.6" font-weight="normal" text-anchor="end" fill="#000" stroke="#000" stroke-width="0.2">100</text>
<line x1="268" y1="537" x2="270.5" y2="537" stroke="#000" stroke-width="0.9"/>
<text x="267" y="540.1" font-size="6.6" font-weight="normal" text-anchor="end" fill="#000" stroke="#000" stroke-width="0.2">75</text>
<line x1="268" y1="569.9" x2="270.5" y2="569.9" stroke="#000" stroke-width="0.9"/>
<text x="267" y="573.0" font-size="6.6" font-weight="normal" text-anchor="end" fill="#000" stroke="#000" stroke-width="0.2">50</text>
<line x1="268" y1="602.9" x2="270.5" y2="602.9" stroke="#000" stroke-width="0.9"/>
<text x="267" y="606.0" font-size="6.6" font-weight="normal" text-anchor="end" fill="#000" stroke="#000" stroke-width="0.2">25</text>
<line x1="268" y1="635.9" x2="270.5" y2="635.9" stroke="#000" stroke-width="0.9"/>
<text x="267" y="639.0" font-size="6.6" font-weight="normal" text-anchor="end" fill="#000" stroke="#000" stroke-width="0.2">0</text>
<text x="279.5" y="654" font-size="6.6" font-weight="normal" text-anchor="middle" fill="#000" stroke="#000" stroke-width="0.2">0</text>
<text x="319.7" y="654" font-size="6.6" font-weight="normal" text-anchor="middle" fill="#000" stroke="#000" stroke-width="0.2">500</text>
<text x="359.8" y="654" font-size="6.6" font-weight="normal" text-anchor="middle" fill="#000" stroke="#000" stroke-width="0.2">1000</text>
<text x="400" y="654" font-size="6.6" font-weight="normal" text-anchor="middle" fill="#000" stroke="#000" stroke-width="0.2">1500</text>
<text x="440.1" y="654" font-size="6.6" font-weight="normal" text-anchor="middle" fill="#000" stroke="#000" stroke-width="0.2">2000</text>
<text x="249" y="561" font-size="10.05" font-weight="bold" text-anchor="middle" fill="#000" transform="rotate(-90 249 561)">overall survival</text>
<text x="357.6" y="665.4" font-size="10" font-weight="bold" text-anchor="middle" fill="#000">days</text>
<path d="M280.2 503.9H303.7V509.6H321V515.5H328V527.4H330.2V532.7H340.1V544.7H376.3V555.9H421.3V555.9" fill="none" stroke="#6c6c6c" stroke-width="1.1" transform="translate(0,0.6)"/>
<path d="M280.2 503.9H281V507H282V510H283.2V513H285.1V516.2H293.6V516.8H294.6V520.4H296.7V524.6H298.8V529.9H301V534.1H303.1V539.4H305.2V542.6H307.3V545.8H311.5V547.9H315.8V550.4H320V552.5H323.2V555.3H326.3V557.4H328.5V560.6H330.6V563.1H336.9V563.8H338V566.9H340.1V569H341.2V572.2H345.4V573.3H346.4V576.4H348.6V578.6H349.6V581.7H351.7V583.9H357V584.3H358.1V588.1H426.2V588.1" fill="none" stroke="#111" stroke-width="1.35" transform="translate(0,0.7)"/>
<line x1="363" y1="587.3" x2="363" y2="588.8" stroke="#111" stroke-width="0.7"/>
<line x1="367" y1="587.3" x2="367" y2="588.8" stroke="#111" stroke-width="0.7"/>
<line x1="371" y1="587.3" x2="371" y2="588.8" stroke="#111" stroke-width="0.7"/>
<line x1="376" y1="587.3" x2="376" y2="588.8" stroke="#111" stroke-width="0.7"/>
<line x1="381" y1="587.3" x2="381" y2="588.8" stroke="#111" stroke-width="0.7"/>
<line x1="388" y1="587.3" x2="388" y2="588.8" stroke="#111" stroke-width="0.7"/>
<line x1="395" y1="587.3" x2="395" y2="588.8" stroke="#111" stroke-width="0.7"/>
<line x1="402" y1="587.3" x2="402" y2="588.8" stroke="#111" stroke-width="0.7"/>
<line x1="409" y1="587.3" x2="409" y2="588.8" stroke="#111" stroke-width="0.7"/>
<line x1="416" y1="587.3" x2="416" y2="588.8" stroke="#111" stroke-width="0.7"/>
<line x1="384" y1="555.2" x2="384" y2="556.5" stroke="#6c6c6c" stroke-width="0.7"/>
<line x1="392" y1="555.2" x2="392" y2="556.5" stroke="#6c6c6c" stroke-width="0.7"/>
<line x1="400" y1="555.2" x2="400" y2="556.5" stroke="#6c6c6c" stroke-width="0.7"/>
<line x1="410" y1="555.2" x2="410" y2="556.5" stroke="#6c6c6c" stroke-width="0.7"/>
<text x="354.7" y="565.7" font-size="9.05" font-weight="bold" text-anchor="start" fill="#000">high miR-223* expression (25%, n=23)</text>
<text x="354.7" y="599.2" font-size="9.05" font-weight="bold" text-anchor="start" fill="#000">low miR-223* expression (75%, n=69)</text>
<text x="409.3" y="641.3" font-size="10.6" font-weight="bold" text-anchor="start" fill="#000">p=0.016</text>
</svg></body></html>
